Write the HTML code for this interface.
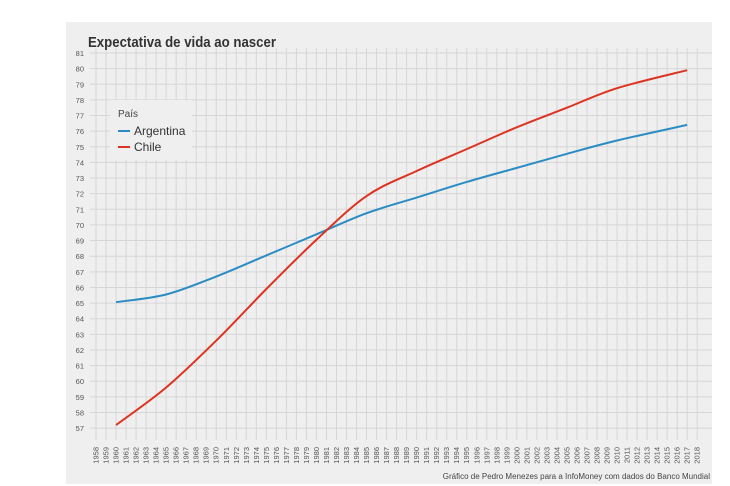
<!DOCTYPE html>
<html><head><meta charset="utf-8"><style>
html,body{margin:0;padding:0;background:#fff;}
svg{display:block;font-family:"Liberation Sans",sans-serif;}
</style></head><body>
<svg id="s" width="730" height="486" xmlns="http://www.w3.org/2000/svg">
<rect x="66" y="22" width="646" height="462" fill="#efefef"/>
<g id="grid"></g>
<text x="88" y="47" font-size="15" font-weight="bold" fill="#333" textLength="188" lengthAdjust="spacingAndGlyphs">Expectativa de vida ao nascer</text>
<g id="lines"></g>
<rect x="110" y="100" width="82" height="60" fill="#efefef"/>
<text x="118" y="117" font-size="10" fill="#444">País</text>
<line x1="118" y1="131" x2="130" y2="131" stroke="#2b8cc4" stroke-width="2"/>
<text x="134" y="135" font-size="12" fill="#333">Argentina</text>
<line x1="118" y1="147" x2="130" y2="147" stroke="#dd3322" stroke-width="2"/>
<text x="134" y="151" font-size="12" fill="#333">Chile</text>
<text x="710" y="479" font-size="8" fill="#444" text-anchor="end">Gráfico de Pedro Menezes para a InfoMoney com dados do Banco Mundial</text>
</svg>
<script>
function X(y){return 96+(y-1958)*10.02;}
function Y(v){return 53+(81-v)*15.63;}
var g=document.getElementById("grid"),h="";
for(var v=57;v<=81;v++){h+='<line x1="90" x2="712" y1="'+Y(v)+'" y2="'+Y(v)+'" stroke="#d6d6d6" stroke-width="1"/>';
h+='<text x="84" y="'+(Y(v)+3)+'" font-size="7.5" fill="#555" text-anchor="end">'+v+'</text>';}
for(var yr=1958;yr<=2018;yr++){var x=X(yr);h+='<line x1="'+x+'" x2="'+x+'" y1="48" y2="440" stroke="#d6d6d6" stroke-width="1"/>';
h+='<text transform="translate('+(x+2.5)+',447) rotate(-90)" font-size="7.5" fill="#555" text-anchor="end">'+yr+'</text>';}
g.innerHTML=h;
function path(d,c){var p=d.map(function(a){return [X(a[0]),Y(a[1])];});
var s="M"+p[0][0]+","+p[0][1];
for(var i=0;i<p.length-1;i++){var p0=p[i-1]||p[i],p1=p[i],p2=p[i+1],p3=p[i+2]||p2;
s+=" C"+(p1[0]+(p2[0]-p0[0])/6)+","+(p1[1]+(p2[1]-p0[1])/6)+" "+(p2[0]-(p3[0]-p1[0])/6)+","+(p2[1]-(p3[1]-p1[1])/6)+" "+p2[0]+","+p2[1];}
return '<path d="'+s+'" fill="none" stroke="'+c+'" stroke-width="2"/>';}
var arg=[[1960,65.06],[1965,65.55],[1970,66.7],[1975,68.05],[1980,69.4],[1985,70.75],[1990,71.75],[1995,72.75],[2000,73.65],[2005,74.55],[2010,75.4],[2017,76.4]];
var chl=[[1960,57.2],[1965,59.6],[1970,62.6],[1975,65.9],[1980,69.05],[1985,71.85],[1990,73.45],[1995,74.85],[2000,76.25],[2005,77.5],[2010,78.75],[2017,79.9]];
document.getElementById("lines").innerHTML=path(arg,"#2b8cc4")+path(chl,"#dd3322");
</script>
</body></html>
